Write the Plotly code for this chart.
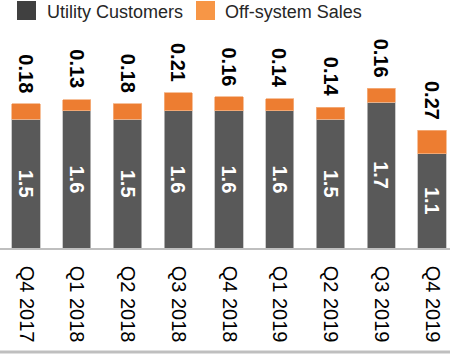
import plotly.graph_objects as go

quarters = ["Q4 2017", "Q1 2018", "Q2 2018", "Q3 2018", "Q4 2018",
            "Q1 2019", "Q2 2019", "Q3 2019", "Q4 2019"]
utility_customers = [1.5, 1.6, 1.5, 1.6, 1.6, 1.6, 1.5, 1.7, 1.1]
off_system_sales = [0.18, 0.13, 0.18, 0.21, 0.16, 0.14, 0.14, 0.16, 0.27]

DARK = "#595959"
ORANGE = "#ED7D31"
W, H = 450, 355
TOP, BOTTOM = 40, 107
PLOT_H = H - TOP - BOTTOM

idx = list(range(len(quarters)))

fig = go.Figure()
fig.add_trace(go.Bar(
    x=idx, y=utility_customers, name="Utility Customers",
    marker=dict(color=DARK, line=dict(color="#BFBFBF", width=0.8)),
    text=[f"{v:.1f}" for v in utility_customers],
    textposition="inside", insidetextanchor="middle", textangle=90,
    insidetextfont=dict(family="Arial, Liberation Sans", size=20, color="white", weight="bold"),
    width=0.56, showlegend=False,
))
fig.add_trace(go.Bar(
    x=idx, y=off_system_sales, name="Off-system Sales",
    marker=dict(color=ORANGE, line=dict(color="#F4B183", width=0.8)),
    width=0.56, showlegend=False,
))

# value labels for the off-system sales, above each stacked column
for i, (u, o) in enumerate(zip(utility_customers, off_system_sales)):
    fig.add_annotation(
        x=i, y=u + o, xref="x", yref="y", text=f"<b>{o:.2f}</b>",
        textangle=90, showarrow=False, yanchor="bottom", yshift=9,
        font=dict(family="Arial, Liberation Sans", size=20, color="black"),
    )

# legend drawn as swatches + labels across the top
def px_to_paper_y(p):
    return (H - BOTTOM - p) / PLOT_H

legend_items = [("Utility Customers", "#404040", 17, 45),
                ("Off-system Sales", "#F79646", 196, 223)]
for label, color, sx, tx in legend_items:
    fig.add_shape(type="rect", xref="paper", yref="paper",
                  x0=sx / W, x1=(sx + 19) / W,
                  y0=px_to_paper_y(20), y1=px_to_paper_y(1),
                  fillcolor=color, line=dict(width=0))
    fig.add_annotation(x=tx / W, y=px_to_paper_y(12), xref="paper", yref="paper",
                       text=label, showarrow=False, xanchor="left", yanchor="middle",
                       font=dict(family="Arial, Liberation Sans", size=18, color="#262626"))

# bottom rule
fig.add_shape(type="line", xref="paper", yref="paper",
              x0=0, x1=1, y0=px_to_paper_y(352), y1=px_to_paper_y(352),
              line=dict(color="#BFBFBF", width=3))

x0 = -26 / 50.75
x1 = (W - 26) / 50.75
fig.update_layout(
    width=W, height=H,
    margin=dict(l=0, r=0, t=TOP, b=BOTTOM, autoexpand=False),
    barmode="stack",
    plot_bgcolor="white", paper_bgcolor="white",
    xaxis=dict(range=[x0, x1], tickmode="array", tickvals=idx, ticktext=quarters,
               tickangle=90, ticks="", showgrid=False, zeroline=False,
               showline=True, linecolor="#BFBFBF", linewidth=1.5,
               ticklabelstandoff=12,
               tickfont=dict(family="Arial, Liberation Sans", size=20, color="black")),
    yaxis=dict(range=[0, PLOT_H / 85.8], visible=False, showgrid=False, zeroline=False),
    uniformtext=dict(mode=False),
)

fig.write_html("out.html")
